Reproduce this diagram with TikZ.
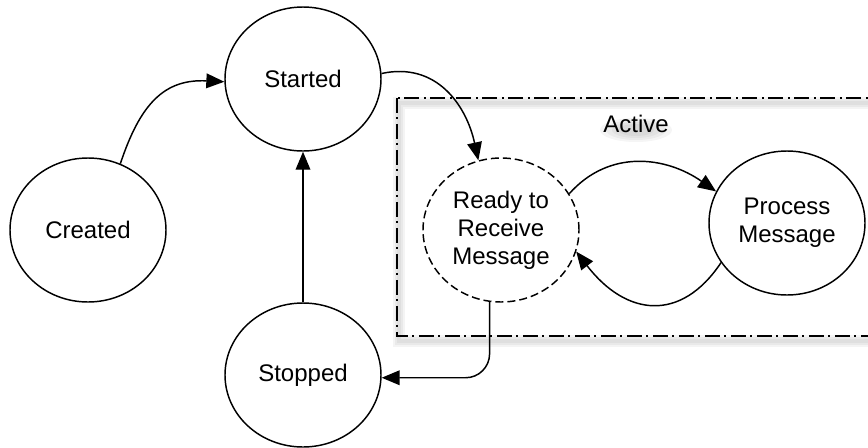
\documentclass[tikz,border=0pt]{standalone}
\usepackage{fontspec}
\setmainfont{Liberation Sans}
\usetikzlibrary{arrows.meta,shapes.geometric}

\tikzset{every picture/.style={line width=1.1pt}}
\tikzset{
  state/.style={draw, ellipse, minimum width=117pt, minimum height=108pt, inner sep=0pt, align=center, font=\fontsize{18}{21}\selectfont},
  trans/.style={-{Triangle[length=13.5pt,width=11pt]}},
  boxline/.style={dash pattern=on 11pt off 3.5pt on 1.5pt off 3.5pt},
}

\begin{document}
\begin{tikzpicture}[x=0.75pt,y=0.75pt,yscale=-1,xscale=1]
\useasboundingbox (0,0) rectangle (868,447);

%Shape: Shadow of the box
\foreach \w in {9,6,3}{
  \draw [line width=\w, black, opacity=0.045] (399,103) rectangle (885,341);
}
%Shape: Rectangle
\draw [boxline] (397,98) rectangle (885,336);
%Shape: Shadow of the label
\foreach \r in {36,30,24,18}{
  \fill [black, opacity=0.04] (636,130) ellipse ({\r*0.75pt} and {\r*0.25pt});
}

%Shape: Ellipse
\node [state] (created) at (88,230) {Created};
%Shape: Ellipse
\node [state] (started) at (303,79) {Started};
%Shape: Ellipse
\node [state] (stopped) at (303,375) {Stopped};
%Shape: Ellipse
\node [state, dashed, dash pattern=on 6pt off 3pt] (ready) at (501,230) {Ready to\\Receive\\Message};
%Shape: Ellipse
\node [state] (process) at (787,223) {Process\\Message};

% Text Node
\node [font=\fontsize{18}{21}\selectfont] (active) at (636,124) {Active};

%Curve Lines
\draw [trans] (created.64) .. controls +(20,-60) and +(-60,-3) .. (started.182);
%Curve Lines
\draw [trans] (started.4) .. controls +(55,-12) and +(-12,-55) .. (ready.108);
%Curve Lines
\draw [trans] (ready.28) .. controls +(40,-45) and +(-50,-35) .. (process.156);
%Curve Lines
\draw [trans] (process.211) .. controls +(-40,60) and +(50,65) .. (ready.-16);
%Straight Lines
\draw [trans, rounded corners=18pt] (ready.261) |- (stopped.-2);
%Straight Lines
\draw [trans] (stopped) -- (started);

\end{tikzpicture}
\end{document}
